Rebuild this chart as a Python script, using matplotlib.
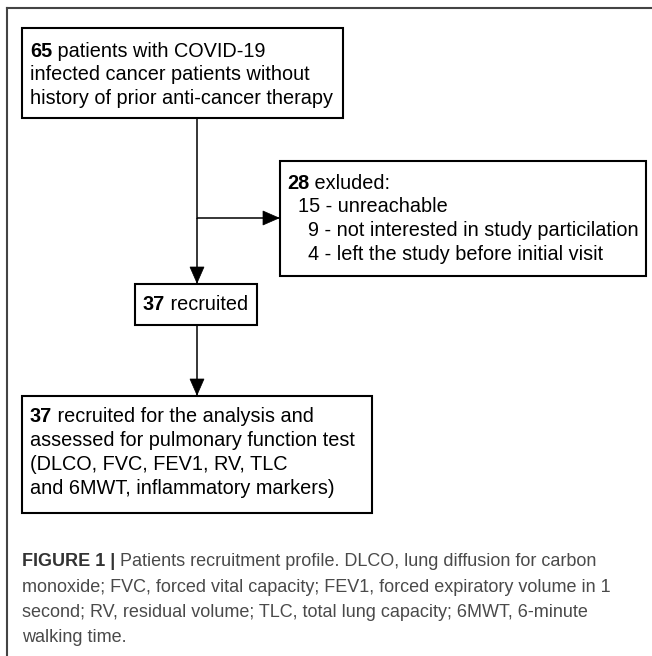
import matplotlib
matplotlib.use("Agg")
import matplotlib.pyplot as plt
from matplotlib.patches import Rectangle, Polygon

plt.rcParams['font.family'] = ['Liberation Sans', 'DejaVu Sans']

# box texts: (bold part, rest of line)
box1_lines = [("65", " patients with COVID-19"),
              ("", "infected cancer patients without"),
              ("", "history of prior anti-cancer therapy")]
box2_lines = [("37", " recruited")]
box3_lines = [("28", " exluded:"),
              ("", "15 - unreachable"),
              ("", "9 - not interested in study particilation"),
              ("", "4 - left the study before initial visit")]
box4_lines = [("37", " recruited for the analysis and"),
              ("", "assessed for pulmonary function test"),
              ("", "(DLCO, FVC, FEV1, RV, TLC"),
              ("", "and 6MWT, inflammatory markers)")]
caption_bold = "FIGURE 1 |"
caption_lines = [" Patients recruitment profile. DLCO, lung diffusion for carbon",
                 "monoxide; FVC, forced vital capacity; FEV1, forced expiratory volume in 1",
                 "second; RV, residual volume; TLC, total lung capacity; 6MWT, 6-minute",
                 "walking time."]

W, H = 652, 656
fig = plt.figure(figsize=(W / 100, H / 100), dpi=100)
ax = fig.add_axes([0, 0, 1, 1])
ax.set_xlim(0, W)
ax.set_ylim(H, 0)
ax.axis('off')
renderer = fig.canvas.get_renderer()


def px_width(t):
    bb = t.get_window_extent(renderer=renderer)
    return bb.width


def rich_line(x, y, bold, rest, size, color='black', bold_color=None):
    if bold:
        t = ax.text(x, y, bold, fontsize=size, fontweight='bold', color=bold_color or color,
                    va='baseline', ha='left')
        x += px_width(t)
    ax.text(x, y, rest, fontsize=size, color=color, va='baseline', ha='left')


def box(x0, y0, x1, y1):
    ax.add_patch(Rectangle((x0, y0), x1 - x0, y1 - y0, fill=False, ec='black', lw=1.5))


def arrow(x0, y0, x1, y1):
    ax.plot([x0, x1], [y0, y1], color='black', lw=1.1, solid_capstyle='butt')
    hl, hw = 16, 7
    if x0 == x1:
        pts = [(x1, y1), (x1 - hw, y1 - hl), (x1 + hw, y1 - hl)]
    else:
        pts = [(x1, y1), (x1 - hl, y1 - hw), (x1 - hl, y1 + hw)]
    ax.add_patch(Polygon(pts, closed=True, fc='black', ec='black', lw=0.5))


# outer frame (top and left only)
ax.plot([7, W], [8, 8], color='#444444', lw=1.5)
ax.plot([7, 7], [8, H], color='#444444', lw=1.5)

fs = 14.3
box(22, 28, 343, 118)
for (b, r), y in zip(box1_lines, [57, 80.5, 104]):
    rich_line(30, y, b, r, fs)

ax.plot([197, 197], [118, 218], color='black', lw=1.1)
arrow(197, 218, 279, 218)
arrow(197, 218, 197, 283)

box(280, 161, 646, 276)
for (b, r), x, y in zip(box3_lines, [287, 298, 308, 308], [189, 212.5, 236, 259.5]):
    rich_line(x, y, b, r, fs)

box(135, 284, 257, 325)
rich_line(143, 310, box2_lines[0][0], box2_lines[0][1], fs)

arrow(197, 325, 197, 395)

box(22, 396, 372, 513)
for (b, r), y in zip(box4_lines, [422, 446, 470, 494]):
    rich_line(30, y, b, r, fs)

cfs = 13.0
for i, (line, y) in enumerate(zip(caption_lines, [566, 591.5, 617, 642.5])):
    rich_line(22, y, caption_bold if i == 0 else "", line, cfs, color='#4a4a4a', bold_color='#333333')

fig.savefig("out.png", dpi=100)
